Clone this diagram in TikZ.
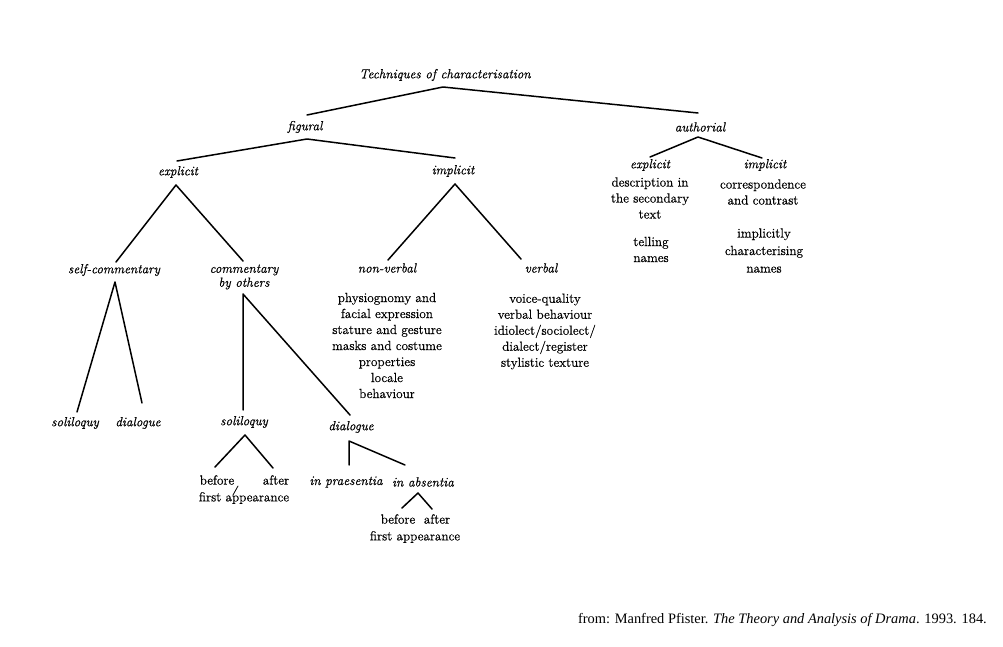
\documentclass[tikz,border=0pt]{standalone}
\usepackage{fontspec}
\setmainfont{Latin Modern Roman}[FakeBold=0.6]
\newfontfamily\capfont{Liberation Serif}
\begin{document}
\begin{tikzpicture}[x=1pt,y=-1pt,line join=round,line cap=round,
  lab/.style={font=\fontsize{13.2}{14}\selectfont\itshape, inner sep=0pt},
  txt/.style={font=\fontsize{13.2}{16}\selectfont, inner sep=0pt, align=center},
  br/.style={draw, line width=1.5pt}]
\useasboundingbox (0,0) rectangle (1003,647);
% labels
\node[lab] (root) at (445,75) {Techniques of characterisation};
\node[lab] (fig) at (305,127) {figural};
\node[lab] (aut) at (700,127) {authorial};
\node[lab] (fexp) at (178,172) {explicit};
\node[lab] (fimp) at (453,171) {implicit};
\node[lab] (self) at (114,270) {self-commentary};
\node[lab, align=center] (oth) at (244,277) {commentary\\by others};
\node[lab] (nv) at (387,268) {non-verbal};
\node[lab] (vb) at (541,268) {verbal};
\node[lab] (sol1) at (75,423) {soliloquy};
\node[lab] (dia1) at (138,423) {dialogue};
\node[lab] (sol2) at (244,422) {soliloquy};
\node[lab] (dia2) at (351,427) {dialogue};
\node[txt] (bef1) at (217,480) {before};
\node[txt] (aft1) at (276,480) {after};
\node[txt] (fa1) at (244,498) {first appearance};
\node[lab] (pra) at (346,482) {in praesentia};
\node[lab] (abs) at (423,482) {in absentia};
\node[txt] (bef2) at (398,519) {before};
\node[txt] (aft2) at (437,519) {after};
\node[txt] (fa2) at (415,537) {first appearance};
\node[txt] (nvlist) at (387,345.5) {physiognomy and\\facial expression\\stature and gesture\\masks and costume\\properties\\locale\\behaviour};
\node[txt] (vblist) at (545,331.5) {voice-quality\\verbal behaviour\\idiolect/sociolect/\\dialect/register\\stylistic texture};
\node[lab] (aexp) at (650,165) {explicit};
\node[txt] (aexp1) at (650,198) {description in\\the secondary\\text};
\node[txt] (aexp2) at (651,249.5) {telling\\names};
\node[lab] (aimp) at (765,165) {implicit};
\node[txt] (aimp1) at (763,192) {correspondence\\and contrast};
\node[txt, font=\fontsize{13.2}{17.5}\selectfont] (aimp2) at (764,250.5) {implicitly\\characterising\\names};
\node[font=\capfont\fontsize{14.4}{16}\selectfont, anchor=east, inner sep=0pt] (src) at (987,620) {from: Manfred Pfister. \textit{The Theory and Analysis of Drama}. 1993. 184.};
% branch points
\coordinate (r0) at (443,87);  \coordinate (r1) at (307,115); \coordinate (r2) at (698,113);
\coordinate (f0) at (307,139); \coordinate (f1) at (177,161); \coordinate (f2) at (455,158);
\coordinate (a0) at (698,137); \coordinate (a1) at (650,157); \coordinate (a2) at (762,158);
\coordinate (e0) at (176,185); \coordinate (e1) at (116,262); \coordinate (e2) at (243,261);
\coordinate (i0) at (455,184); \coordinate (i1) at (388,260); \coordinate (i2) at (521,259);
\coordinate (s0) at (115,282); \coordinate (s1) at (77,412);  \coordinate (s2) at (142,403);
\coordinate (o0) at (243,294); \coordinate (o1) at (243,410); \coordinate (o2) at (350,415);
\coordinate (q0) at (245,435); \coordinate (q1) at (215,467); \coordinate (q2) at (273,468);
\coordinate (d0) at (349,441); \coordinate (d1) at (349,465); \coordinate (d2) at (405,465);
\coordinate (b0) at (418,493); \coordinate (b1) at (402,508); \coordinate (b2) at (432,509);
\coordinate (m0) at (238,486); \coordinate (m1) at (233,495);
% connectors
\path[br] (r1) -- (r0) -- (r2);
\path[br] (f1) -- (f0) -- (f2);
\path[br] (a1) -- (a0) -- (a2);
\path[br] (e1) -- (e0) -- (e2);
\path[br] (i1) -- (i0) -- (i2);
\path[br] (s1) -- (s0) -- (s2);
\path[br] (o1) -- (o0) -- (o2);
\path[br] (q1) -- (q0) -- (q2);
\path[br] (d1) -- (d0) -- (d2);
\path[br] (b1) -- (b0) -- (b2);
\draw[line width=0.8pt] (m0) -- (m1);
\end{tikzpicture}
\end{document}
